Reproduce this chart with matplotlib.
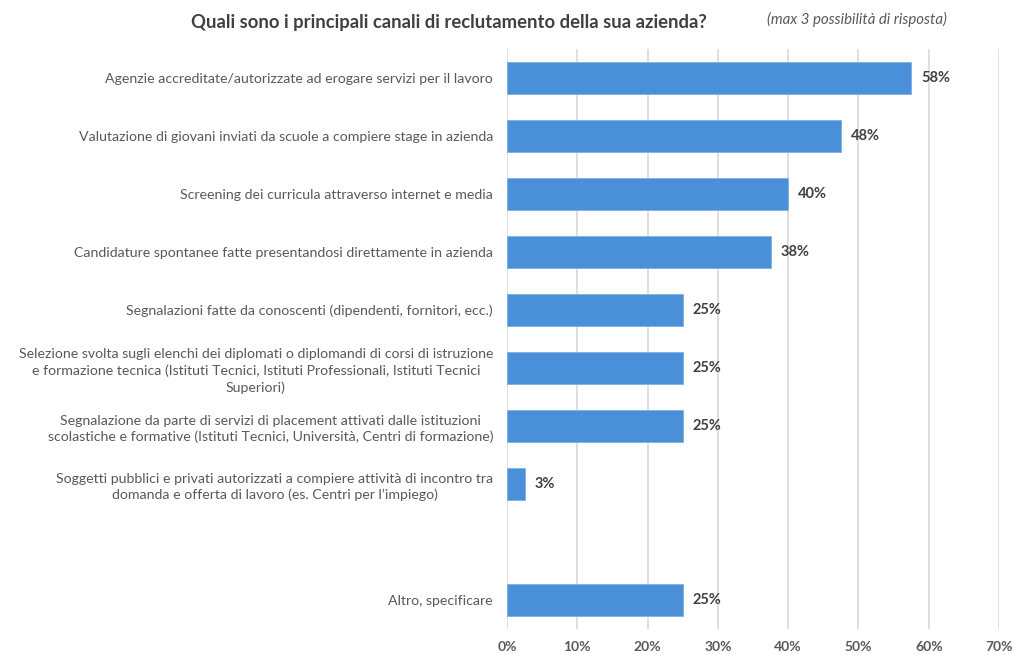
import numpy as np
import matplotlib
matplotlib.use("Agg")
import matplotlib.pyplot as plt
from decimal import Decimal, ROUND_HALF_UP

plt.rcParams['font.family'] = ['Lato', 'DejaVu Sans']

title = "Quali sono i principali canali di reclutamento della sua azienda?"
subtitle = "(max 3 possibilità di risposta)"

categories = [
    "Agenzie accreditate/autorizzate ad erogare servizi per il lavoro",
    "Valutazione di giovani inviati da scuole a compiere stage in azienda",
    "Screening dei curricula attraverso internet e media",
    "Candidature spontanee fatte presentandosi direttamente in azienda",
    "Segnalazioni fatte da conoscenti (dipendenti, fornitori, ecc.)",
    "Selezione svolta sugli elenchi dei diplomati o diplomandi di corsi di istruzione\n"
    "e formazione tecnica (Istituti Tecnici, Istituti Professionali, Istituti Tecnici\n"
    "Superiori)",
    "Segnalazione da parte di servizi di placement attivati dalle istituzioni\n"
    "scolastiche e formative (Istituti Tecnici, Università, Centri di formazione)",
    "Soggetti pubblici e privati autorizzati a compiere attività di incontro tra\n"
    "domanda e offerta di lavoro (es. Centri per l’impiego)",
    "",
    "Altro, specificare",
]
values = [57.5, 47.5, 40.0, 37.5, 25.0, 25.0, 25.0, 2.5, np.nan, 25.0]
xticks = [0, 10, 20, 30, 40, 50, 60, 70]

bar_color = "#4a90d9"
text_color = "#595959"

fig = plt.figure(figsize=(10.14, 6.55), dpi=100)
ax = fig.add_axes([0.5, 0.04, 0.4852, 0.885])

y = np.arange(len(categories))
ax.barh(y, values, height=0.55, color=bar_color, edgecolor="#7fb0e6", linewidth=0.6, zorder=3)

for yi, v in zip(y, values):
    if np.isnan(v):
        continue
    lbl = str(Decimal(str(v)).quantize(Decimal("1"), rounding=ROUND_HALF_UP)) + "%"
    ax.text(v + 1.4, yi, lbl, va="center", ha="left", fontsize=10.5,
            fontweight="bold", color="#404040")

ax.set_ylim(len(categories) - 0.5, -0.5)
ax.set_xlim(0, 70)
ax.set_xticks(xticks)
ax.set_xticklabels([f"{t}%" for t in xticks], fontsize=10, fontweight="bold", color=text_color)
ax.set_yticks(y)
ax.set_yticklabels(categories, fontsize=10.2, color=text_color, multialignment="center",
                   linespacing=1.38)
ax.tick_params(axis="both", length=0)
ax.tick_params(axis="y", pad=10)
ax.tick_params(axis="x", pad=9)

ax.grid(axis="x", color="#d9d9d9", linewidth=1.2, zorder=0)
for s in ax.spines.values():
    s.set_visible(False)

fig.text(0.443, 0.966, title, ha="center", va="center", fontsize=13.3,
         fontweight="bold", color="#404040")
fig.text(0.845, 0.97, subtitle, ha="center", va="center", fontsize=10.8,
         style="italic", color="#595959")

fig.savefig("out.png", dpi=100)
